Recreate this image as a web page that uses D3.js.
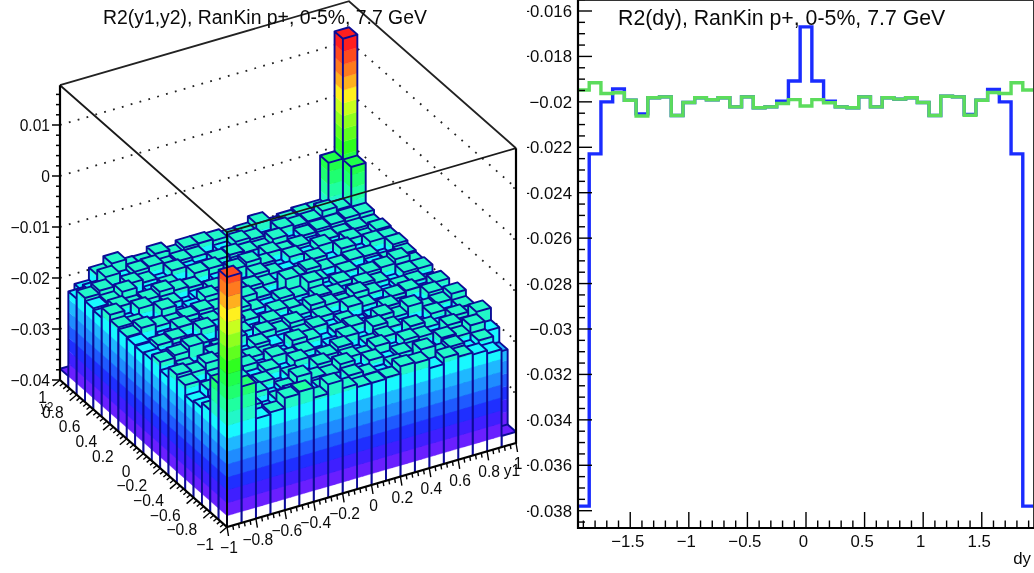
<!DOCTYPE html>
<html><head><meta charset="utf-8">
<style>html,body{margin:0;padding:0;background:#fff}svg{display:block;filter:blur(.3px)}text{font-family:"Liberation Sans",Arial,sans-serif;fill:#0a0a0a}</style>
<script src="https://cdn.jsdelivr.net/npm/d3@7"></script></head><body>
<svg id="c" width="1034" height="573"></svg>
<script>
// R2(y1,y2): rows are y1 bins, columns are y2 bins, values in units of 1e-4
const r2Cells = [
[90,-133,-200,-210,-214,-194,-188,-208,-192,-202,-204,-202,-200,-196,-186,-206,-202,-196,-212,-378],
[-133,-209,-192,-210,-197,-214,-193,-199,-187,-208,-196,-216,-191,-200,-212,-194,-199,-190,-207,-220],
[-204,-195,-199,-188,-212,-198,-182,-210,-178,-202,-193,-208,-197,-214,-190,-200,-186,-206,-186,-196],
[-200,-213,-191,-203,-196,-216,-194,-188,-206,-198,-213,-192,-200,-186,-208,-196,-216,-193,-202,-182],
[-180,-198,-210,-193,-202,-190,-212,-197,-199,-215,-189,-204,-195,-210,-198,-188,-207,-199,-192,-198],
[-176,-194,-200,-214,-192,-206,-196,-208,-187,-195,-212,-198,-191,-202,-213,-194,-199,-210,-190,-199],
[-196,-209,-184,-197,-207,-188,-200,-193,-212,-199,-190,-213,-196,-186,-204,-197,-215,-192,-200,-188],
[-178,-200,-195,-212,-190,-199,-210,-204,-192,-208,-197,-189,-206,-198,-193,-212,-191,-202,-196,-200],
[-194,-212,-198,-191,-208,-196,-187,-206,-199,-193,-210,-200,-188,-213,-195,-202,-190,-208,-197,-192],
[-200,-192,-184,-206,-197,-213,-194,-199,-190,-212,-195,-204,-198,-191,-208,-186,-206,-196,-214,-192],
[-200,-199,-212,-194,-188,-202,-210,-192,-206,-198,-200,-193,-213,-196,-189,-180,-200,-194,-204,-195],
[-198,-208,-193,-200,-213,-190,-197,-206,-195,-186,-208,-199,-178,-210,-197,-192,-212,-198,-191,-200],
[-184,-196,-204,-188,-199,-210,-192,-198,-212,-194,-190,-178,-206,-196,-202,-213,-193,-200,-195,-198],
[-186,-206,-197,-210,-193,-186,-202,-213,-191,-200,-196,-206,-198,-190,-210,-194,-199,-188,-206,-186],
[-204,-182,-199,-192,-212,-197,-188,-208,-198,-187,-204,-195,-212,-199,-192,-202,-196,-210,-190,-202],
[-192,-200,-212,-195,-188,-206,-199,-193,-210,-196,-191,-213,-197,-200,-208,-189,-204,-198,-194,-198],
[-198,-193,-190,-208,-199,-214,-186,-202,-195,-208,-198,-192,-212,-196,-188,-206,-199,-194,-192,-194],
[-202,-210,-196,-188,-206,-194,-200,-213,-192,-199,-210,-190,-202,-197,-208,-193,-198,-192,-180,-194],
[-208,-197,-182,-200,-192,-210,-196,-190,-206,-198,-193,-182,-199,-212,-191,-200,-195,-188,-186,-108],
[-378,-231,-202,-178,-199,-198,-186,-208,-192,-208,-194,-198,-195,-190,-193,-190,-196,-188,-110,127]
];
const levelColors = ["#ffffff","#6a1fff","#3f1fff","#1f2fff","#1f5aff","#1f8cff","#1fb8ff","#18f8ff","#22f7c8","#1fffa0","#1fff70","#1fff4a","#2fff1f","#5fff1f","#8fff1f","#c8ff1f","#fff01f","#ffb01f","#ff7a1f","#ff4a1f","#ff1f1f"];
const levelFloor = -0.0378, levelStep = 0.002525;
const levelEdges = d3.range(levelColors.length-1).map(k=>levelFloor+k*levelStep);
const zTicks = [-0.04,-0.03,-0.02,-0.01,0,0.01];
const floorTicks = [-1,-0.8,-0.6,-0.4,-0.2,0,0.2,0.4,0.6,0.8,1];
// R2(dy), 39 bins of width 0.1
const dyEdges = d3.range(40).map(k=>-1.95+k*0.1);
const blueValues = [-.0378,-.02229,-.02,-.01943,-.01993,-.02053,-.01982,-.01978,-.0206,-.02003,-.01982,-.01991,-.01982,-.02022,-.01978,-.02026,-.02022,-.01997,-.01908,-.0167,-.01908,-.01997,-.02022,-.02026,-.01978,-.02022,-.01982,-.01988,-.01982,-.02003,-.0206,-.01975,-.01978,-.02055,-.01993,-.01945,-.02,-.02229,-.0378];
const greenValues = [-.01948,-.01916,-.01963,-.0196,-.01993,-.02062,-.01982,-.01978,-.0206,-.02003,-.01982,-.01991,-.01982,-.02022,-.01978,-.02026,-.02022,-.02007,-.0199,-.02018,-.0199,-.02004,-.02022,-.02026,-.01978,-.02022,-.01982,-.01988,-.01982,-.02003,-.0206,-.01975,-.01978,-.02059,-.01993,-.01959,-.01963,-.01916,-.01948];
const dyMajor = [-1.5,-1,-0.5,0,0.5,1,1.5];
const dyLabelsY = [-0.016,-0.018,-0.02,-0.022,-0.024,-0.026,-0.028,-0.03,-0.032,-0.034,-0.036,-0.038];

const svg = d3.select("#c");
const minus = s => String(s).replace("-","\u2212");
const fmt = v => minus(+v.toFixed(3));

/* ---------- left: lego ---------- */
const O = {x:227,y:527}, A = {x:289,y:-84}, B = {x:-167,y:-147};
const y1Scale = d3.scaleLinear([-1,1],[0,1]), y2Scale = d3.scaleLinear([-1,1],[0,1]);
const zScale = d3.scaleLinear([-0.04,0.01],[0,255]);
const binEdge = d3.scaleLinear([0,20],[-1,1]);
const levelOf = d3.scaleThreshold(levelEdges, levelColors);
const zTop = 0.0178;
const P = (y1,y2,z) => [O.x+A.x*y1Scale(y1)+B.x*y2Scale(y2), O.y+A.y*y1Scale(y1)+B.y*y2Scale(y2)-zScale(z)];
const poly = pts => "M"+pts.map(p=>p[0].toFixed(2)+","+p[1].toFixed(2)).join("L")+"Z";
const L = svg.append("g");

// back-wall grid
const gridG = L.append("g").attr("fill","none").attr("stroke","#222").attr("stroke-width",1.8).attr("stroke-dasharray","1.8 7.4");
gridG.selectAll("path").data(zTicks.slice(1)).join("path")
  .attr("d",z=>{const a=P(-1,1,z),b=P(1,1,z),c=P(1,-1,z);return `M${a}L${b}L${c}`});
// back box edges
L.append("path").attr("fill","none").attr("stroke","#222").attr("stroke-width",1.8)
  .attr("d",`M${P(-1,1,zTop)}L${P(1,1,zTop)}L${P(1,-1,zTop)}`);

// bars, far to near
const cells=[];
for(let i=19;i>=0;i--)for(let j=19;j>=0;j--)cells.push({i,j,z:r2Cells[i][j]*1e-4});
const bars = L.append("g").selectAll("g").data(cells).join("g");
function bands(z){
  const cuts=[-0.04,...levelEdges.filter(e=>e<z),z];
  return d3.pairs(cuts);
}
bars.each(function(d){
  const g=d3.select(this);
  const x0=binEdge(d.i),x1=binEdge(d.i+1),y0=binEdge(d.j),y1=binEdge(d.j+1);
  const faces=[[[x0,y0],[x0,y1]],[[x0,y0],[x1,y0]]];
  const parts=[];
  faces.forEach(f=>bands(d.z).forEach(b=>parts.push({
    d:poly([P(f[0][0],f[0][1],b[0]),P(f[1][0],f[1][1],b[0]),P(f[1][0],f[1][1],b[1]),P(f[0][0],f[0][1],b[1])]),
    c:levelOf((b[0]+b[1])/2)})));
  g.selectAll("path.s").data(parts).join("path").attr("class","s")
    .attr("d",p=>p.d).attr("fill",p=>p.c).attr("stroke",p=>p.c).attr("stroke-width",.4);
  g.append("path").attr("d",poly([P(x0,y0,d.z),P(x1,y0,d.z),P(x1,y1,d.z),P(x0,y1,d.z)])).attr("fill",levelOf(d.z));
  const edge="M"+P(x0,y1,-0.04)+"L"+P(x0,y1,d.z)+"M"+P(x0,y0,-0.04)+"L"+P(x0,y0,d.z)+"M"+P(x1,y0,-0.04)+"L"+P(x1,y0,d.z)
    +"M"+P(x0,y1,d.z)+"L"+P(x1,y1,d.z)+"L"+P(x1,y0,d.z)+"L"+P(x0,y0,d.z)+"Z";
  g.append("path").attr("d",edge).attr("fill","none").attr("stroke","#0c0c96").attr("stroke-width",1.9).attr("stroke-linejoin","round");
});

// front box edges, over the bars
L.append("path").attr("fill","none").attr("stroke","#1a1a1a").attr("stroke-width",1.8)
  .attr("d",`M${P(-1,1,zTop)}L${P(-1,-1,zTop)}L${P(1,-1,zTop)}`);
L.append("path").attr("fill","none").attr("stroke","#000").attr("stroke-width",1.8)
  .attr("d",`M${P(-1,-1,zTop)}L${P(-1,-1,-0.04)}`);
// axis lines
L.append("path").attr("fill","none").attr("stroke","#000").attr("stroke-width",2.2)
  .attr("d",`M${P(-1,1,zTop)}L${P(-1,1,-0.04)}L${P(-1,-1,-0.04)}L${P(1,-1,-0.04)}L${P(1,-1,zTop)}`);

// z ticks
const zMinor = d3.range(-0.04,zTop,0.002);
L.append("g").attr("stroke","#000").attr("stroke-width",1.5).selectAll("line").data(zMinor).join("line")
  .attr("x1",z=>P(-1,1,z)[0]).attr("x2",(z,k)=>P(-1,1,z)[0]-(k%5===0?8:4)).attr("y1",z=>P(-1,1,z)[1]).attr("y2",z=>P(-1,1,z)[1]);
L.append("g").attr("stroke","#000").attr("stroke-width",1.2).selectAll("line").data(zTicks.slice(1)).join("line")
  .attr("x1",z=>P(1,-1,z)[0]).attr("x2",z=>P(1,-1,z)[0]-3).attr("y1",z=>P(1,-1,z)[1]).attr("y2",z=>P(1,-1,z)[1]);
L.append("g").selectAll("text").data(zTicks).join("text").attr("text-anchor","end").attr("font-size",15.6)
  .attr("x",P(-1,1,0)[0]-10).attr("y",z=>P(-1,1,z)[1]+5.5).text(z=>fmt(z));

// floor ticks
const floorMinor = d3.range(0,51).map(k=>-1+k*0.04);
L.append("g").attr("stroke","#000").attr("stroke-width",1.4).selectAll("line").data(floorMinor).join("line")
  .each(function(v,k){const p=P(v,-1,-0.04),m=k%5===0?1:.5;d3.select(this).attr("x1",p[0]).attr("y1",p[1]).attr("x2",p[0]+1.5*m).attr("y2",p[1]+9*m)});
L.append("g").attr("stroke","#000").attr("stroke-width",1.4).selectAll("line").data(floorMinor).join("line")
  .each(function(v,k){const p=P(-1,v,-0.04),m=k%5===0?1:.5;d3.select(this).attr("x1",p[0]).attr("y1",p[1]).attr("x2",p[0]-7*m).attr("y2",p[1]+6*m)});
L.append("g").selectAll("text").data(floorTicks).join("text").attr("text-anchor","middle").attr("font-size",15.6)
  .attr("x",v=>P(v,-1,-0.04)[0]+2).attr("y",v=>P(v,-1,-0.04)[1]+26).text(fmt);
L.append("g").selectAll("text").data(floorTicks).join("text").attr("text-anchor","end").attr("font-size",15.6)
  .attr("x",v=>P(-1,v,-0.04)[0]-13).attr("y",v=>P(-1,v,-0.04)[1]+23).text(fmt);
L.append("text").attr("x",512).attr("y",476).attr("text-anchor","middle").attr("font-size",15.6).text("y1");
L.append("text").attr("x",47).attr("y",411).attr("text-anchor","middle").attr("font-size",12).text("y2");
L.append("text").attr("x",103).attr("y",24).attr("font-size",19.4).text("R2(y1,y2), RanKin p+, 0-5%, 7.7 GeV");

/* ---------- right: R2(dy) ---------- */
const x = d3.scaleLinear([-1.95,1.95],[577.5,1034.5]);
const y = d3.scaleLinear([-0.038,-0.016],[510.7,11]);
svg.append("clipPath").attr("id","clipR").append("rect").attr("x",527).attr("y",0).attr("width",507).attr("height",573);
const R = svg.append("g").attr("clip-path","url(#clipR)");
const steps = d3.line().x(d=>x(d[0])).y(d=>y(d[1])).curve(d3.curveStepAfter);
const pairsOf = v => [...v.map((w,k)=>[dyEdges[k],w]),[dyEdges[39],v[38]]];
R.append("path").attr("d",steps(pairsOf(blueValues))).attr("fill","none").attr("stroke","#1a2cff").attr("stroke-width",3.4);
R.append("path").attr("d",steps(pairsOf(greenValues))).attr("fill","none").attr("stroke","#5cdc5c").attr("stroke-width",3.4);
// frame
R.append("path").attr("fill","none").attr("stroke","#333").attr("stroke-width",1).attr("d","M578,0.5H1033.5V528");
R.append("path").attr("fill","none").attr("stroke","#000").attr("stroke-width",2.2).attr("d","M578,0V528H1034");
// y ticks
const yMinor = d3.range(0,47).map(k=>-0.0385+k*0.0005);
R.append("g").attr("stroke","#000").attr("stroke-width",1.4).selectAll("line").data(yMinor).join("line")
  .attr("x1",578).attr("y1",y).attr("y2",y).attr("x2",(v,k)=>(k-1)%4===0?592:585);
R.append("g").selectAll("text").data(dyLabelsY).join("text").attr("text-anchor","end").attr("font-size",16.8)
  .attr("x",572).attr("y",v=>y(v)+6).text(fmt);
// x ticks
const xMinor = d3.range(-19,20).map(k=>k/10);
R.append("g").attr("stroke","#000").attr("stroke-width",1.4).selectAll("line").data(xMinor).join("line")
  .attr("x1",x).attr("x2",x).attr("y1",528).attr("y2",(v,k)=>k%5===4?512:520.5);
R.append("g").selectAll("text").data(dyMajor).join("text").attr("text-anchor","middle").attr("font-size",16.8)
  .attr("x",v=>x(v)-2.5).attr("y",547).text(fmt);
R.append("text").attr("x",1031).attr("y",564).attr("text-anchor","end").attr("font-size",16.8).text("dy");
R.append("text").attr("x",618).attr("y",25).attr("font-size",21.3).text("R2(dy), RanKin p+, 0-5%, 7.7 GeV");
</script></body></html>
